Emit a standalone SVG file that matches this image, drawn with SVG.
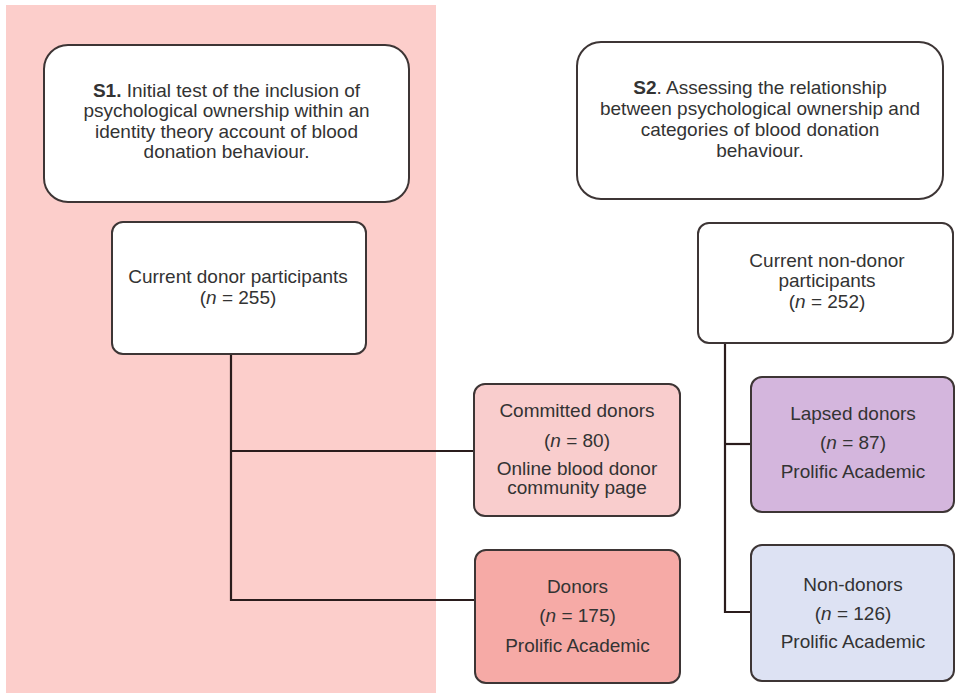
<svg xmlns="http://www.w3.org/2000/svg" width="955" height="693" viewBox="0 0 955 693">
<style>
text{font-family:"Liberation Sans",Arial,sans-serif;font-size:19px;fill:#333;text-anchor:middle}
.b{font-weight:bold}
.i{font-style:italic}
.box{stroke:#3d3535;stroke-width:2}
.con{fill:none;stroke:#2a1c1c;stroke-width:2.2}
</style>
<rect x="0" y="0" width="955" height="693" fill="#ffffff"/>
<rect id="s1-panel" x="6" y="5" width="430" height="688" fill="#fccecb"/>
<g id="connectors">
<path class="con" d="M231 354 V600 H475"/>
<path class="con" d="M231 451 H474"/>
<path class="con" d="M725 343 V612 H751"/>
<path class="con" d="M725 444 H751"/>
</g>
<g id="s1">
<rect class="box" x="44" y="45" width="365" height="157" rx="24" fill="#ffffff"/>
<text x="226.5" y="97"><tspan class="b">S1.</tspan> Initial test of the inclusion of</text>
<text x="226.5" y="117">psychological ownership within an</text>
<text x="226.5" y="138">identity theory account of blood</text>
<text x="226.5" y="158">donation behaviour.</text>
</g>
<g id="s2">
<rect class="box" x="577" y="42" width="366" height="157" rx="24" fill="#ffffff"/>
<text x="760" y="94"><tspan class="b">S2</tspan>. Assessing the relationship</text>
<text x="760" y="115">between psychological ownership and</text>
<text x="760" y="136">categories of blood donation</text>
<text x="760" y="157">behaviour.</text>
</g>
<g id="current-donors">
<rect class="box" x="112" y="222" width="254" height="132" rx="11" fill="#ffffff"/>
<text x="238" y="283">Current donor participants</text>
<text x="238" y="304">(<tspan class="i">n</tspan> = 255)</text>
</g>
<g id="committed">
<rect class="box" x="474" y="384" width="206" height="132" rx="11" fill="#f9cdcd"/>
<text x="577" y="417">Committed donors</text>
<text x="577" y="447">(<tspan class="i">n</tspan> = 80)</text>
<text x="577" y="475">Online blood donor</text>
<text x="577" y="494">community page</text>
</g>
<g id="donors">
<rect class="box" x="475" y="550" width="205" height="133" rx="11" fill="#f6aaa6"/>
<text x="577.5" y="593">Donors</text>
<text x="577.5" y="622">(<tspan class="i">n</tspan> = 175)</text>
<text x="577.5" y="652">Prolific Academic</text>
</g>
<g id="current-nondonors">
<rect class="box" x="698" y="223" width="255" height="120" rx="11" fill="#ffffff"/>
<text x="827" y="267">Current non-donor</text>
<text x="827" y="287">participants</text>
<text x="827" y="308">(<tspan class="i">n</tspan> = 252)</text>
</g>
<g id="lapsed">
<rect class="box" x="751" y="377" width="203" height="135" rx="11" fill="#d4b6dd"/>
<text x="853" y="420">Lapsed donors</text>
<text x="853" y="449">(<tspan class="i">n</tspan> = 87)</text>
<text x="853" y="478">Prolific Academic</text>
</g>
<g id="nondonors">
<rect class="box" x="751" y="545" width="203" height="136" rx="11" fill="#dde2f3"/>
<text x="853" y="591">Non-donors</text>
<text x="853" y="620">(<tspan class="i">n</tspan> = 126)</text>
<text x="853" y="648">Prolific Academic</text>
</g>
</svg>
